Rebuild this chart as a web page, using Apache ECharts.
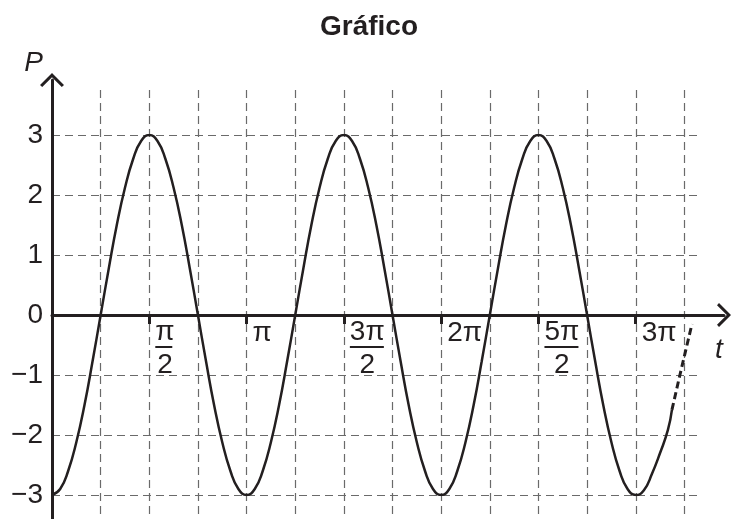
<!DOCTYPE html>
<html>
<head>
<meta charset="utf-8">
<title>Gráfico</title>
<script src="https://cdn.jsdelivr.net/npm/echarts@6/dist/echarts.min.js"></script>
<style>
  html, body { margin: 0; padding: 0; background: #fff; }
  #chart { width: 738px; height: 519px; }
</style>
</head>
<body>
<div id="chart"></div>
<script>
// t is given in multiples of pi
const tSolid = [
  0, 0.042, 0.083, 0.125, 0.167, 0.208, 0.25, 0.292, 0.333, 0.375, 0.417, 0.458,
  0.5, 0.542, 0.583, 0.625, 0.667, 0.708, 0.75, 0.792, 0.833, 0.875, 0.917, 0.958,
  1, 1.042, 1.083, 1.125, 1.167, 1.208, 1.25, 1.292, 1.333, 1.375, 1.417, 1.458,
  1.5, 1.542, 1.583, 1.625, 1.667, 1.708, 1.75, 1.792, 1.833, 1.875, 1.917, 1.958,
  2, 2.042, 2.083, 2.125, 2.167, 2.208, 2.25, 2.292, 2.333, 2.375, 2.417, 2.458,
  2.5, 2.542, 2.583, 2.625, 2.667, 2.708, 2.75, 2.792, 2.833, 2.875, 2.917, 2.958,
  3, 3.042, 3.083, 3.125, 3.165, 3.186
]
const pSolid = [
  -3, -2.9, -2.6, -2.12, -1.5, -0.78, 0, 0.78, 1.5, 2.12, 2.6, 2.9,
  3, 2.9, 2.6, 2.12, 1.5, 0.78, 0, -0.78, -1.5, -2.12, -2.6, -2.9,
  -3, -2.9, -2.6, -2.12, -1.5, -0.78, 0, 0.78, 1.5, 2.12, 2.6, 2.9,
  3, 2.9, 2.6, 2.12, 1.5, 0.78, 0, -0.78, -1.5, -2.12, -2.6, -2.9,
  -3, -2.9, -2.6, -2.12, -1.5, -0.78, 0, 0.78, 1.5, 2.12, 2.6, 2.9,
  3, 2.9, 2.6, 2.12, 1.5, 0.78, 0, -0.78, -1.5, -2.12, -2.6, -2.9,
  -3, -2.92, -2.65, -2.3, -1.92, -1.58
]
const tDashed = [3.186, 3.227, 3.289]
const pDashed = [-1.58, -1.0, -0.15]

const tTicks = [0.5, 1, 1.5, 2, 2.5, 3]
const tTickLabels = [
  '{n|π}\n{b|}\n{d|2}',
  '{s|π}',
  '{n|3π}\n{bw|}\n{d|2}',
  '{s|2π}',
  '{n|5π}\n{bw|}\n{d|2}',
  '{s|3π}'
]

const ink = '#231f20'
const gridGray = '#6a6a6a'
const font = '"Liberation Sans", Arial, Helvetica, sans-serif'
const chevron = 'path://M12 0 L24 12 L21.8 14 L12 4.2 L2.2 14 L0 12 Z'

const chart = echarts.init(document.getElementById('chart'))

const option = {
  animation: false,
  backgroundColor: '#fff',
  title: {
    text: 'Gráfico',
    left: 'center',
    top: 8,
    textStyle: { fontFamily: font, fontSize: 28, fontWeight: 'bold', color: ink }
  },
  grid: [
    // curve + horizontal grid lines
    { left: 52, top: 135, width: 646, height: 360, outerBoundsMode: 'none' },
    // vertical grid lines
    { left: 52, top: 90, width: 632.45, height: 429, outerBoundsMode: 'none' },
    // axis lines with arrows
    { left: 52, top: 80, width: 672, height: 439, outerBoundsMode: 'none' },
    // t tick labels, bottom edge sits on P = 0
    { left: 52, top: 135, width: 646, height: 180, outerBoundsMode: 'none' }
  ],
  xAxis: [
    {
      gridIndex: 0,
      type: 'value',
      min: 0,
      max: 3.32,
      show: false
    },
    {
      gridIndex: 1,
      type: 'value',
      min: 0,
      max: 3.25,
      interval: 0.25,
      axisLine: { show: false },
      axisTick: { show: false },
      axisLabel: { show: false },
      splitLine: { show: true, lineStyle: { color: gridGray, width: 1.2, type: [8, 5] } }
    },
    {
      gridIndex: 2,
      type: 'value',
      min: 0,
      max: 1,
      axisLine: {
        show: true,
        onZero: true,
        symbol: ['none', chevron],
        symbolSize: [24, 14],
        lineStyle: { color: ink, width: 3 }
      },
      axisTick: { show: false },
      axisLabel: { show: false },
      splitLine: { show: false },
      name: 't',
      nameLocation: 'end',
      nameGap: -5,
      nameTextStyle: {
        fontFamily: font, fontSize: 28, fontStyle: 'italic', color: ink,
        align: 'center', verticalAlign: 'top', padding: [21, 0, 0, 0]
      }
    },
    {
      gridIndex: 3,
      type: 'value',
      position: 'bottom',
      min: 0,
      max: 3.32,
      axisLine: { show: false, onZero: false },
      axisTick: {
        show: true,
        customValues: tTicks,
        length: 9,
        lineStyle: { color: ink, width: 3 }
      },
      axisLabel: {
        customValues: tTicks,
        align: 'left',
        verticalAlign: 'top',
        margin: 4,
        padding: [0, 0, 0, 6],
        color: ink,
        fontFamily: font,
        fontSize: 28,
        formatter: v => {
          const i = tTicks.findIndex(x => Math.abs(x - v) < 1e-6)
          return i < 0 ? '' : tTickLabels[i]
        },
        rich: {
          n: { fontFamily: font, fontSize: 28, lineHeight: 26, align: 'center', color: ink },
          b: { width: 17, height: 2, lineHeight: 4, fontSize: 2, backgroundColor: ink },
          bw: { width: 34, height: 2, lineHeight: 4, fontSize: 2, backgroundColor: ink },
          d: { fontFamily: font, fontSize: 28, lineHeight: 32, align: 'center', color: ink },
          s: { fontFamily: font, fontSize: 28, lineHeight: 28, color: ink }
        }
      },
      splitLine: { show: false }
    }
  ],
  yAxis: [
    {
      gridIndex: 0,
      type: 'value',
      min: -3,
      max: 3,
      interval: 1,
      axisLine: { show: false },
      axisTick: { show: false },
      axisLabel: {
        margin: 9,
        color: ink,
        fontFamily: font,
        fontSize: 28,
        formatter: v => (v < 0 ? '\u2212' + Math.abs(v) : String(v))
      },
      splitLine: { show: true, lineStyle: { color: gridGray, width: 1.2, type: [8, 5] } }
    },
    {
      gridIndex: 1,
      type: 'value',
      min: 0,
      max: 1,
      show: false
    },
    {
      gridIndex: 2,
      type: 'value',
      min: -204,
      max: 235,
      axisLine: {
        show: true,
        onZero: true,
        symbol: ['none', chevron],
        symbolSize: [24, 14],
        lineStyle: { color: ink, width: 3 }
      },
      axisTick: { show: false },
      axisLabel: { show: false },
      splitLine: { show: false },
      name: 'P',
      nameLocation: 'end',
      nameGap: 3,
      nameTextStyle: {
        fontFamily: font, fontSize: 28, fontStyle: 'italic', color: ink,
        align: 'right', verticalAlign: 'bottom', padding: [0, 9, 0, 0]
      }
    },
    {
      gridIndex: 3,
      type: 'value',
      min: 1,
      max: 2,
      show: false
    }
  ],
  series: [
    {
      type: 'line',
      xAxisIndex: 0,
      yAxisIndex: 0,
      data: tSolid.map((t, i) => [t, pSolid[i]]),
      smooth: true,
      showSymbol: false,
      lineStyle: { color: ink, width: 2.5 },
      z: 5
    },
    {
      type: 'line',
      xAxisIndex: 0,
      yAxisIndex: 0,
      data: tDashed.map((t, i) => [t, pDashed[i]]),
      smooth: false,
      showSymbol: false,
      lineStyle: { color: ink, width: 3, type: [7, 4] },
      z: 5
    }
  ]
}

chart.setOption(option)
</script>
</body>
</html>
